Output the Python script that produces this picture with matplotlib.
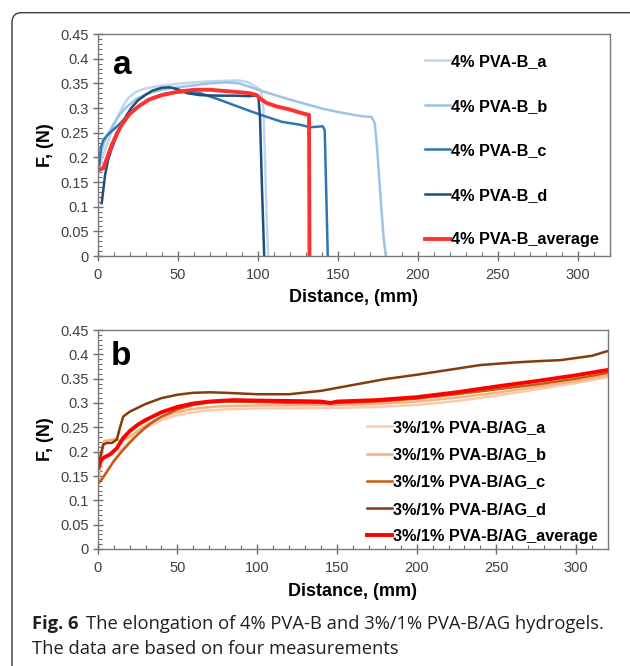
import numpy as np
import matplotlib
matplotlib.use('Agg')
import matplotlib.pyplot as plt
from matplotlib.patches import FancyBboxPatch
from matplotlib.ticker import MultipleLocator

# ---- panel a: 4% PVA-B ----
a_x = [0.5, 2, 4, 6.6, 10, 13, 16, 19, 24, 30, 40, 50, 60, 70, 80, 88, 94, 99, 102, 103.5, 104.5, 105.5, 106.5]
a_y = [0.17, 0.19, 0.21, 0.232, 0.265, 0.286, 0.305, 0.32, 0.333, 0.34, 0.345, 0.349, 0.352, 0.354, 0.355, 0.356, 0.352, 0.343, 0.336, 0.3, 0.2, 0.08, 0]
b_x = [0.5, 2, 4, 7, 10, 14, 18, 24, 30, 40, 50, 60, 70, 80, 88, 95, 101, 110, 120, 130, 140, 150, 160, 166, 171, 173, 174.5, 176, 178.5, 180]
b_y = [0.19, 0.21, 0.23, 0.25, 0.268, 0.288, 0.302, 0.318, 0.328, 0.337, 0.342, 0.346, 0.35, 0.352, 0.35, 0.343, 0.336, 0.327, 0.317, 0.308, 0.299, 0.292, 0.286, 0.283, 0.282, 0.27, 0.22, 0.15, 0.04, 0]
c_x = [1, 2, 3.5, 6, 10.8, 15, 19, 24, 29.6, 35, 42, 50, 57, 64, 75, 85, 95, 105.6, 115, 126.5, 132.7, 137, 140.6, 141.8, 142.6, 143.7]
c_y = [0.184, 0.22, 0.235, 0.245, 0.259, 0.272, 0.286, 0.3, 0.313, 0.322, 0.329, 0.332, 0.333, 0.33, 0.318, 0.306, 0.294, 0.282, 0.272, 0.266, 0.261, 0.262, 0.263, 0.255, 0.15, 0]
d_x = [2.5, 4.6, 6.5, 8.75, 12, 15, 18, 21, 25, 29.6, 34, 40, 45, 50, 56, 64, 75, 85, 95, 98.3, 100.4, 101.4, 102.5, 104]
d_y = [0.107, 0.164, 0.195, 0.218, 0.245, 0.266, 0.285, 0.3, 0.315, 0.326, 0.335, 0.341, 0.342, 0.338, 0.33, 0.326, 0.325, 0.325, 0.324, 0.325, 0.323, 0.28, 0.15, 0]
avg_x = [0.4, 3.5, 6, 8.75, 12, 15, 20, 25.4, 32, 40, 50, 60.8, 70, 85, 95, 99.4, 102, 105.6, 112, 120, 126, 130.6, 132, 132.3]
avg_y = [0.174, 0.178, 0.2, 0.225, 0.248, 0.266, 0.288, 0.303, 0.317, 0.326, 0.333, 0.337, 0.337, 0.333, 0.33, 0.326, 0.318, 0.31, 0.303, 0.297, 0.291, 0.287, 0.286, 0]

# ---- panel b: 3%/1% PVA-B/AG ----
ag_a_x = [0.5, 3, 6, 10, 15, 20, 30, 40, 50, 60, 70, 80, 100, 125, 150, 175, 200, 225, 250, 275, 300, 320]
ag_a_y = [0.14, 0.145, 0.16, 0.18, 0.205, 0.222, 0.248, 0.265, 0.275, 0.281, 0.285, 0.287, 0.289, 0.289, 0.29, 0.292, 0.296, 0.304, 0.315, 0.328, 0.341, 0.353]
ag_b_x = [0.5, 2, 4, 8, 11, 14, 20, 28, 38, 48, 60, 75, 100, 125, 150, 175, 200, 225, 250, 275, 300, 320]
ag_b_y = [0.14, 0.18, 0.222, 0.224, 0.226, 0.222, 0.23, 0.25, 0.268, 0.28, 0.288, 0.293, 0.295, 0.295, 0.296, 0.298, 0.303, 0.311, 0.321, 0.333, 0.345, 0.357]
ag_c_x = [0.5, 3, 6, 10, 15, 20, 25, 30, 35, 40, 50, 60, 70, 80, 100, 125, 150, 175, 200, 225, 250, 275, 300, 320]
ag_c_y = [0.135, 0.145, 0.16, 0.18, 0.2, 0.218, 0.235, 0.25, 0.262, 0.272, 0.287, 0.296, 0.301, 0.303, 0.302, 0.3, 0.3, 0.303, 0.309, 0.318, 0.328, 0.338, 0.35, 0.362]
ag_d_x = [0.5, 2, 3.5, 6, 9, 12, 14, 16, 20, 25, 30, 40, 50, 60, 70, 80, 100, 120, 140, 160, 180, 200, 220, 240, 260, 276, 290, 310, 320]
ag_d_y = [0.17, 0.195, 0.215, 0.218, 0.218, 0.225, 0.25, 0.272, 0.282, 0.29, 0.298, 0.31, 0.317, 0.321, 0.322, 0.321, 0.318, 0.318, 0.325, 0.337, 0.349, 0.358, 0.368, 0.378, 0.383, 0.386, 0.388, 0.397, 0.407]
ag_avg_x = [0.5, 2, 4, 8, 12, 16, 20, 25, 30, 40, 50, 60, 70, 85, 100, 125, 140, 146, 150, 175, 200, 225, 250, 275, 300, 320]
ag_avg_y = [0.168, 0.182, 0.188, 0.195, 0.207, 0.228, 0.242, 0.255, 0.265, 0.281, 0.292, 0.299, 0.303, 0.306, 0.305, 0.304, 0.303, 0.3, 0.303, 0.306, 0.312, 0.322, 0.334, 0.345, 0.357, 0.368]

labels_a = ['4% PVA-B_a', '4% PVA-B_b', '4% PVA-B_c', '4% PVA-B_d', '4% PVA-B_average']
labels_b = ['3%/1% PVA-B/AG_a', '3%/1% PVA-B/AG_b', '3%/1% PVA-B/AG_c', '3%/1% PVA-B/AG_d', '3%/1% PVA-B/AG_average']
colors_a = ['#bdd7ee', '#9dc3e6', '#2e75b6', '#1f4e79', '#ff3030']
colors_b = ['#f8cbad', '#f4b183', '#c55a11', '#843c0c', '#ff0000']

plt.rcParams['font.family'] = ['Liberation Sans', 'DejaVu Sans']

W, H = 630, 666
fig = plt.figure(figsize=(W / 100, H / 100), dpi=100)

# rounded frame around figure+caption
frame = FancyBboxPatch((12 / W, -0.05), 640 / W, (666 - 12) / H + 0.05 - 0.001,
                       boxstyle='round,pad=0,rounding_size=0.015',
                       transform=fig.transFigure, fill=False, ec='#3a3a3a', lw=1.0)
fig.patches.append(frame)


def style_axes(ax, xpad):
    ax.set_xlim(0, 320)
    ax.set_ylim(0, 0.45)
    ax.xaxis.set_major_locator(MultipleLocator(50))
    ax.xaxis.set_minor_locator(MultipleLocator(10))
    ax.yaxis.set_minor_locator(MultipleLocator(0.01))
    ax.set_yticks(np.arange(0, 0.451, 0.05))
    ax.set_yticklabels(['0', '0.05', '0.1', '0.15', '0.2', '0.25', '0.3', '0.35', '0.4', '0.45'])
    ax.tick_params(which='major', direction='inout', length=7, width=1, color='#6b6b6b',
                   labelsize=10.5, labelcolor='#404040', pad=3)
    ax.tick_params(which='minor', direction='in', length=3, width=0.8, color='#6b6b6b')
    ax.tick_params(axis='x', which='major', pad=5)
    for s in ax.spines.values():
        s.set_color('#7a7a7a')
        s.set_linewidth(1.0)
    ax.set_xlabel('Distance, (mm)', fontsize=13, fontweight='bold', labelpad=xpad)
    ax.set_ylabel('F, (N)', fontsize=13, fontweight='bold', labelpad=4)


ax1 = fig.add_axes([97.7 / W, 1 - 256 / H, (610 - 97.7) / W, 222 / H])
series_a = [(a_x, a_y), (b_x, b_y), (c_x, c_y), (d_x, d_y), (avg_x, avg_y)]
for (xs, ys), col, lab in zip(series_a, colors_a, labels_a):
    lw = 2.8 if 'average' in lab else 1.8
    ax1.plot(xs, ys, color=col, lw=lw, label=lab)
style_axes(ax1, 5)
ax1.text(0.03, 0.93, 'a', transform=ax1.transAxes, fontsize=24, fontweight='bold', va='top')
ax1.legend(loc='upper left', bbox_to_anchor=(425 / W, 1 - 54 / H), bbox_transform=fig.transFigure,
           frameon=False, prop={'size': 11.7, 'weight': 'bold'}, handlelength=1.55,
           handletextpad=0.05, labelspacing=1.82, borderpad=0, borderaxespad=0)

ax2 = fig.add_axes([97.7 / W, 1 - 549 / H, (608 - 97.7) / W, 219 / H])
series_b = [(ag_a_x, ag_a_y), (ag_b_x, ag_b_y), (ag_c_x, ag_c_y), (ag_d_x, ag_d_y), (ag_avg_x, ag_avg_y)]
for (xs, ys), col, lab in zip(series_b, colors_b, labels_b):
    lw = 2.8 if 'average' in lab else 1.8
    ax2.plot(xs, ys, color=col, lw=lw, label=lab)
style_axes(ax2, 6)
ax2.text(0.025, 0.95, 'b', transform=ax2.transAxes, fontsize=24, fontweight='bold', va='top')
ax2.legend(loc='upper left', bbox_to_anchor=(367 / W, 1 - 420 / H), bbox_transform=fig.transFigure,
           frameon=False, prop={'size': 11.7, 'weight': 'bold'}, handlelength=1.55,
           handletextpad=0.05, labelspacing=0.75, borderpad=0, borderaxespad=0)

# caption
cap_font = ['Open Sans', 'DejaVu Sans']
t1 = fig.text(32 / W, 1 - 624 / H, 'Fig. 6', fontsize=13.2, fontweight='bold', family=cap_font,
              color='#231f20', va='center')
fig.canvas.draw()
bb = t1.get_window_extent()
fig.text((bb.x1 + 7) / W, 1 - 624 / H, 'The elongation of 4% PVA-B and 3%/1% PVA-B/AG hydrogels.',
         fontsize=13.2, family=cap_font, color='#231f20', va='center')
fig.text(32 / W, 1 - 649 / H, 'The data are based on four measurements', fontsize=13.2,
         family=cap_font, color='#231f20', va='center')

fig.savefig('out.png', dpi=100)
